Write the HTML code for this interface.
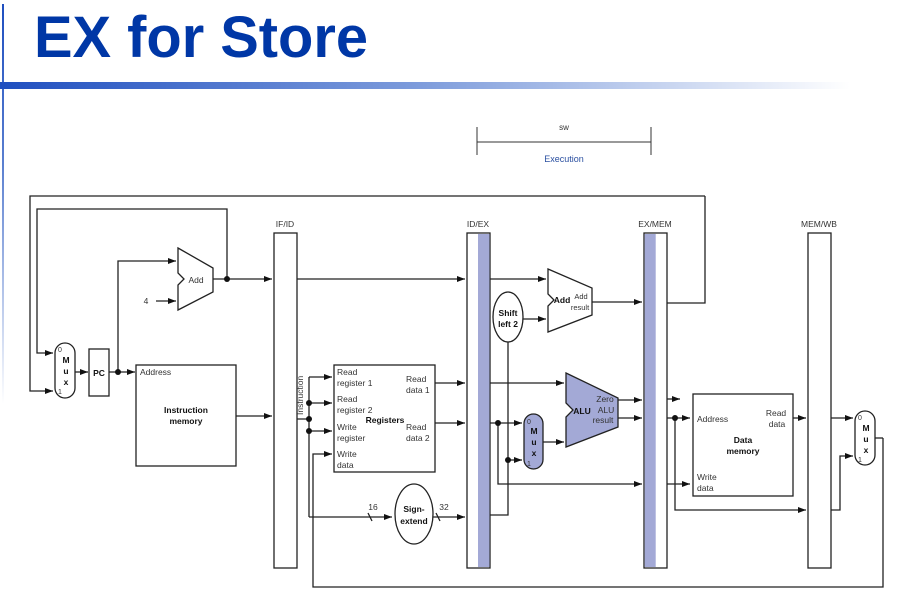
<!DOCTYPE html>
<html><head><meta charset="utf-8"><style>
html,body{margin:0;padding:0;background:#fff;width:900px;height:599px;overflow:hidden}
svg{display:block}
text{font-family:"Liberation Sans",sans-serif}
</style></head><body>
<svg width="900" height="599" viewBox="0 0 900 599" xmlns="http://www.w3.org/2000/svg">
<defs>
<linearGradient id="hb" x1="0" x2="1" y1="0" y2="0"><stop offset="0" stop-color="#1f4fc0"/><stop offset="0.5" stop-color="#7f9ddc"/><stop offset="1" stop-color="#ffffff"/></linearGradient>
<linearGradient id="vb" x1="0" x2="0" y1="0" y2="1"><stop offset="0" stop-color="#1f4fc0"/><stop offset="0.4" stop-color="#5a7fd0"/><stop offset="1" stop-color="#ffffff"/></linearGradient>
<marker id="a" markerWidth="8" markerHeight="6" refX="8" refY="3" orient="auto" markerUnits="userSpaceOnUse"><path d="M0,0L8,3L0,6z" fill="#111"/></marker>
</defs>
<rect x="2" y="4" width="2" height="400" fill="url(#vb)"/>
<rect x="0" y="82" width="850" height="7" fill="url(#hb)"/>
<text x="34" y="57" font-size="58" font-weight="bold" fill="#0037a6" textLength="334" lengthAdjust="spacingAndGlyphs">EX for Store</text>

<g stroke="#333" stroke-width="1" fill="none">
<path d="M477 127V155M651 127V155M477 142H651"/>
</g>
<text x="564" y="130" font-size="8" text-anchor="middle" fill="#333">sw</text>
<text x="564" y="162" font-size="9" text-anchor="middle" fill="#2a4fa0">Execution</text>

<g stroke="#222" stroke-width="1.3" fill="none">
<rect x="274" y="233" width="23" height="335" fill="#fff"/>
<rect x="467" y="233" width="23" height="335" fill="#fff"/>
<rect x="644" y="233" width="23" height="335" fill="#fff"/>
<rect x="808" y="233" width="23" height="335" fill="#fff"/>
</g>
<rect x="478" y="234" width="11.5" height="333" fill="#a3a9d6"/>
<rect x="644.7" y="234" width="11" height="333" fill="#a3a9d6"/>

<g stroke="#222" stroke-width="1.3" fill="none">
<path d="M705 196H30V391H53" marker-end="url(#a)"/>
<path d="M667 303H705V196"/>
<path d="M227 279V209H37V353H53" marker-end="url(#a)"/>
<rect x="55" y="343" width="20" height="55" rx="10" fill="#fff"/>
<path d="M75 372H88" marker-end="url(#a)"/>
<rect x="89" y="349" width="20" height="47" fill="#fff"/>
<path d="M109 372H135" marker-end="url(#a)"/>
<path d="M118 372V261H176" marker-end="url(#a)"/>
<path d="M156 301H176" marker-end="url(#a)"/>
<path d="M178 248L213 268V292L178 310V285L184 279L178 273Z" fill="#fff"/>
<path d="M213 279H272" marker-end="url(#a)"/>
<rect x="136" y="365" width="100" height="101" fill="#fff"/>
<path d="M236 416H272" marker-end="url(#a)"/>
<path d="M297 279H465" marker-end="url(#a)"/>
<path d="M297 419H309M309 377V517"/>
<path d="M309 377H332" marker-end="url(#a)"/>
<path d="M309 403H332" marker-end="url(#a)"/>
<path d="M309 431H332" marker-end="url(#a)"/>
<path d="M309 517H392" marker-end="url(#a)"/>
<path d="M368 513L372 521M436 513L440 521"/>
<path d="M883 438V587H313V454H332" marker-end="url(#a)"/>
<rect x="334" y="365" width="101" height="107" fill="#fff"/>
<path d="M435 383H465" marker-end="url(#a)"/>
<path d="M435 423H465" marker-end="url(#a)"/>
<ellipse cx="414" cy="514" rx="19" ry="30" fill="#fff"/>
<path d="M433 517H465" marker-end="url(#a)"/>
<path d="M490 279H546" marker-end="url(#a)"/>
<path d="M548 269L592 288V315L548 332V306L554 300L548 294Z" fill="#fff"/>
<ellipse cx="508" cy="317" rx="15" ry="25" fill="#fff"/>
<path d="M523 319H546" marker-end="url(#a)"/>
<path d="M592 302H642" marker-end="url(#a)"/>
<path d="M508 342V515H490"/>
<path d="M490 383H564" marker-end="url(#a)"/>
<path d="M566 373L618 398V427L566 447V417L573 410L566 403Z" fill="#a3a9d6"/>
<path d="M618 400H642" marker-end="url(#a)"/>
<path d="M618 418H642" marker-end="url(#a)"/>
<path d="M490 423H522" marker-end="url(#a)"/>
<path d="M508 460H522" marker-end="url(#a)"/>
<path d="M498 423V484H642" marker-end="url(#a)"/>
<rect x="524" y="414" width="19" height="55" rx="9.5" fill="#a3a9d6"/>
<path d="M543 442H564" marker-end="url(#a)"/>
<path d="M667 399H680" marker-end="url(#a)"/>
<path d="M667 418H690" marker-end="url(#a)"/>
<path d="M667 484H690" marker-end="url(#a)"/>
<path d="M675 418V510H806" marker-end="url(#a)"/>
<rect x="693" y="394" width="100" height="102" fill="#fff"/>
<path d="M793 418H806" marker-end="url(#a)"/>
<path d="M831 418H853" marker-end="url(#a)"/>
<path d="M831 510H840V456H853" marker-end="url(#a)"/>
<rect x="855" y="411" width="20" height="54" rx="10" fill="#fff"/>
<path d="M875 438H883"/>
</g>
<g fill="#111">
<circle cx="227" cy="279" r="3"/><circle cx="118" cy="372" r="3"/>
<circle cx="309" cy="403" r="3"/><circle cx="309" cy="419" r="3"/><circle cx="309" cy="431" r="3"/>
<circle cx="498" cy="423" r="3"/><circle cx="508" cy="460" r="3"/><circle cx="675" cy="418" r="3"/>
</g>

<g font-size="8.5" fill="#333">
<text x="285" y="227" text-anchor="middle">IF/ID</text>
<text x="478" y="227" text-anchor="middle">ID/EX</text>
<text x="655" y="227" text-anchor="middle">EX/MEM</text>
<text x="819" y="227" text-anchor="middle">MEM/WB</text>
<text x="196" y="283" text-anchor="middle">Add</text>
<text x="146" y="304" text-anchor="middle">4</text>
<text x="140" y="375">Address</text>
<text x="337" y="375">Read</text><text x="337" y="386">register 1</text>
<text x="337" y="402">Read</text><text x="337" y="413">register 2</text>
<text x="337" y="430">Write</text><text x="337" y="441">register</text>
<text x="337" y="457">Write</text><text x="337" y="468">data</text>
<text x="406" y="382">Read</text><text x="406" y="393">data 1</text>
<text x="406" y="430">Read</text><text x="406" y="441">data 2</text>
<text x="373" y="510" text-anchor="middle">16</text>
<text x="444" y="510" text-anchor="middle">32</text>
<text x="303" y="415" transform="rotate(-90 303 415)">Instruction</text>
<text x="581" y="299" text-anchor="middle" font-size="7.5">Add</text>
<text x="580" y="310" text-anchor="middle" font-size="7.5">result</text>
<text x="605" y="402" text-anchor="middle">Zero</text>
<text x="606" y="413" text-anchor="middle">ALU</text>
<text x="603" y="423" text-anchor="middle">result</text>
<text x="697" y="422">Address</text>
<text x="776" y="416" text-anchor="middle">Read</text><text x="777" y="427" text-anchor="middle">data</text>
<text x="697" y="480">Write</text><text x="697" y="491">data</text>
<text x="58" y="352" font-size="7">0</text><text x="58" y="394" font-size="7">1</text>
<text x="527" y="424" font-size="7">0</text><text x="527" y="466" font-size="7">1</text>
<text x="858" y="420" font-size="7">0</text><text x="858" y="462" font-size="7">1</text>
</g>
<g font-size="8.5" font-weight="bold" fill="#111" text-anchor="middle">
<text x="66" y="363">M</text><text x="66" y="374">u</text><text x="66" y="385">x</text>
<text x="534" y="434">M</text><text x="534" y="445">u</text><text x="534" y="456">x</text>
<text x="866" y="431">M</text><text x="866" y="442">u</text><text x="866" y="453">x</text>
<text x="99" y="376">PC</text>
<text x="186" y="413">Instruction</text><text x="186" y="424">memory</text>
<text x="385" y="423">Registers</text>
<text x="414" y="512">Sign-</text><text x="414" y="524">extend</text>
<text x="508" y="316">Shift</text><text x="508" y="327">left 2</text>
<text x="562" y="303">Add</text>
<text x="582" y="414">ALU</text>
<text x="743" y="443">Data</text><text x="743" y="454">memory</text>
</g>
</svg>
</body></html>
